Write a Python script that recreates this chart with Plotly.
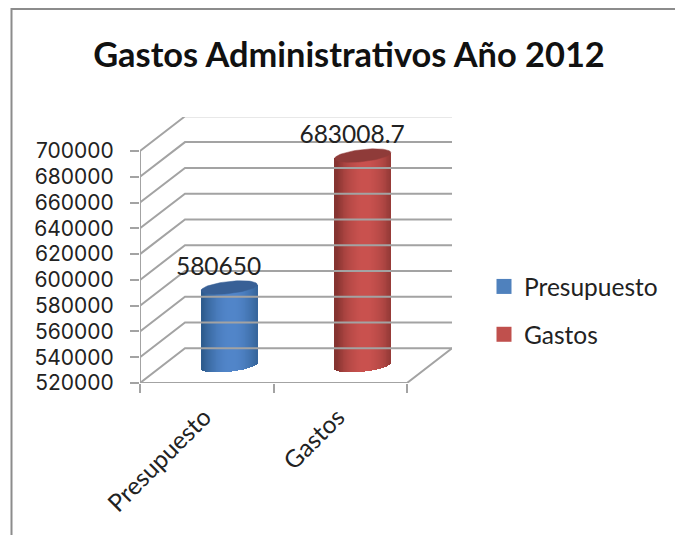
import numpy as np
import plotly.graph_objects as go

# Chart data
categories = ["Presupuesto", "Gastos"]
values = [580650, 683008.7]
value_labels = ["580650", "683008.7"]
y_ticks = [520000, 540000, 560000, 580000, 600000, 620000, 640000, 660000, 680000, 700000]

# Cylinder colours: edge shade, centre shade, cap
edge_colors = [(46, 92, 142), (134, 52, 49)]
centre_colors = [(82, 134, 202), (202, 82, 79)]
cap_colors = ["#386096", "#8f3b39"]
legend_colors = ["#4f81bd", "#c0504d"]

GRID = "#a3a3a3"
FRAME = "#8c8c8c"
FONT = "Lato, 'Open Sans', sans-serif"
TICK_FONT = "Inter, Lato, sans-serif"
TEXT = "#222222"

# Page and plot-area size
WIDTH, HEIGHT = 675, 535
M_LEFT, M_RIGHT, M_TOP, M_BOTTOM = 140, 223, 117, 152
plot_w = WIDTH - M_LEFT - M_RIGHT
plot_h = HEIGHT - M_TOP - M_BOTTOM

# Pseudo-3D depth of the box, in axis units
base_value = y_ticks[0]
depth_x = 0.337
depth_y = 26900
half_width = 0.21
cap_ry = 4700      # vertical radius of the elliptical ends
cap_tilt = 2300    # upward lean of the ellipse towards its right side
n_strips = 60

fig = go.Figure()

# Walls and floor
gx, gy = [0, 0, None], [y_ticks[0], y_ticks[-1], None]
for v in y_ticks:
    gx += [0, depth_x, 2 + depth_x, None]
    gy += [v, v + depth_y, v + depth_y, None]
gx += [0, 2, 2 + depth_x]
gy += [base_value, base_value, base_value + depth_y]
fig.add_trace(go.Scatter(x=gx, y=gy, mode="lines", line=dict(color=GRID, width=2),
                         hoverinfo="skip", showlegend=False, cliponaxis=False))

# Cylinders: each is a run of narrow shaded bars with an elliptical cap
for i, v in enumerate(values):
    cx = i + 0.5 + depth_x / 2
    u = (np.arange(n_strips) + 0.5) / n_strips * 2 - 1
    low = base_value + depth_y / 2 + cap_tilt * u - cap_ry * np.sqrt(1 - u ** 2)
    high = v + depth_y / 2 + cap_tilt * u
    shade = np.cos(np.clip(u - 0.1, -1, 1) * np.pi / 2) ** 0.8
    colors = [
        "rgb(%d,%d,%d)" % tuple(
            e + (c - e) * s for e, c in zip(edge_colors[i], centre_colors[i])
        )
        for s in shade
    ]
    fig.add_trace(go.Bar(x=cx + u * half_width, y=high - low, base=low,
                         width=2 * half_width / n_strips * 1.25,
                         marker=dict(color=colors, line=dict(width=0)),
                         hoverinfo="skip", showlegend=False))
    t = np.linspace(0, 2 * np.pi, 73)
    fig.add_trace(go.Scatter(
        x=cx + half_width * np.cos(t),
        y=v + depth_y / 2 + cap_tilt * np.cos(t) + cap_ry * np.sin(t),
        mode="lines", fill="toself", fillcolor=cap_colors[i],
        line=dict(color=cap_colors[i], width=0.5),
        hoverinfo="skip", showlegend=False))

# Value labels above the cylinders
fig.add_trace(go.Scatter(
    x=[i + 0.42 + depth_x / 2 for i in range(len(values))],
    y=[v + depth_y / 2 + 4700 for v in values],
    mode="text", text=value_labels, textposition="top center",
    textfont=dict(family=FONT, size=24.5, color=TEXT),
    hoverinfo="skip", showlegend=False, cliponaxis=False))

# Legend entries
for name, color in zip(categories, legend_colors):
    fig.add_trace(go.Scatter(x=[None], y=[None], mode="markers", name=name, legendgroup=name,
                             marker=dict(symbol="square", size=15, color=color)))

# Outer frame: top and left edges of the chart area
frame_left = (11.5 - M_LEFT) / plot_w
frame_right = (WIDTH - M_LEFT) / plot_w
frame_top = (HEIGHT - M_BOTTOM - 9) / plot_h
frame_bottom = -M_BOTTOM / plot_h

fig.update_layout(
    width=WIDTH, height=HEIGHT, autosize=False,
    margin=dict(l=M_LEFT, r=M_RIGHT, t=M_TOP, b=M_BOTTOM),
    paper_bgcolor="white", plot_bgcolor="rgba(0,0,0,0)",
    barmode="overlay", bargap=0,
    title=dict(text="<b>Gastos Administrativos Año 2012</b>",
               x=349 / WIDTH, xanchor="center", y=1 - 55 / HEIGHT, yanchor="middle",
               font=dict(family=FONT, size=34.4, color="#111111")),
    xaxis=dict(range=[0, 2 + depth_x], tickvals=[0.48, 1.48], ticktext=categories,
               tickangle=-45, ticks="", showgrid=False, zeroline=False, showline=False,
               ticklabelstandoff=14,
               tickfont=dict(family=FONT, size=24.5, color=TEXT),
               minor=dict(tickvals=[0, 1, 2], ticks="outside", ticklen=9, tickwidth=2,
                          tickcolor=GRID, showgrid=False)),
    yaxis=dict(range=[base_value, base_value + 266 / 232 * 180000], tickvals=y_ticks,
               tickformat="d", ticks="outside", ticklen=9, tickwidth=2, tickcolor=GRID,
               showgrid=False, zeroline=False, showline=False, ticklabelstandoff=12,
               tickfont=dict(family=TICK_FONT, size=21, color=TEXT)),
    legend=dict(x=484 / WIDTH, xref="container", xanchor="left",
                y=1 - 264 / HEIGHT, yref="container", yanchor="top",
                font=dict(family=FONT, size=24.5, color=TEXT), itemwidth=30,
                bgcolor="rgba(0,0,0,0)", tracegroupgap=13),
    shapes=[dict(type="path", xref="paper", yref="paper",
                 path=f"M {frame_left} {frame_bottom} L {frame_left} {frame_top} L {frame_right} {frame_top}",
                 line=dict(color=FRAME, width=2))],
)

fig.write_html("out.html")
